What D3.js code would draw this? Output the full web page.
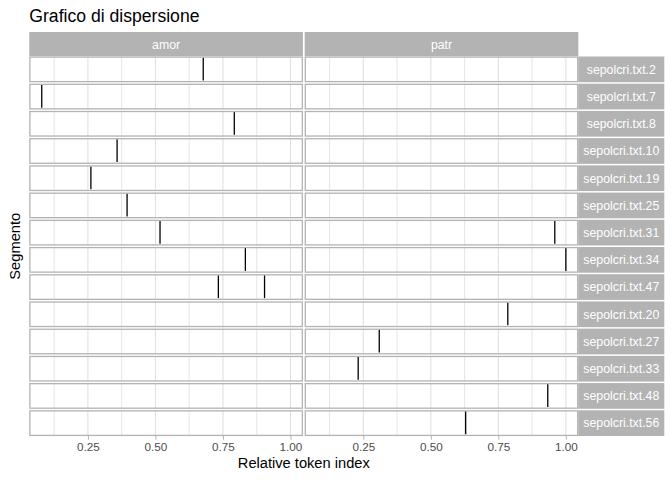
<!DOCTYPE html>
<html><head><meta charset="utf-8">
<script src="https://cdn.jsdelivr.net/npm/d3@7"></script>
<style>
html,body{margin:0;padding:0;background:#fff;}
text{font-family:"Liberation Sans",Arial,sans-serif;}
</style></head>
<body>
<svg id="chart" width="672" height="480"></svg>
<script>
// Data
const segments = ["sepolcri.txt.2","sepolcri.txt.7","sepolcri.txt.8","sepolcri.txt.10","sepolcri.txt.19","sepolcri.txt.25","sepolcri.txt.31","sepolcri.txt.34","sepolcri.txt.47","sepolcri.txt.20","sepolcri.txt.27","sepolcri.txt.33","sepolcri.txt.48","sepolcri.txt.56"];
const keywords = ["amor","patr"];
const amorSegments = ["sepolcri.txt.2","sepolcri.txt.7","sepolcri.txt.8","sepolcri.txt.10","sepolcri.txt.19","sepolcri.txt.25","sepolcri.txt.31","sepolcri.txt.34","sepolcri.txt.47","sepolcri.txt.47"];
const amorValues   = [0.677,0.079,0.792,0.358,0.261,0.395,0.517,0.833,0.733,0.904];
const patrSegments = ["sepolcri.txt.31","sepolcri.txt.34","sepolcri.txt.20","sepolcri.txt.27","sepolcri.txt.33","sepolcri.txt.48","sepolcri.txt.56"];
const patrValues   = [0.959,1.000,0.785,0.309,0.231,0.933,0.629];
const xTicks = [0.25,0.50,0.75,1.00];
const xMinor = [0.125,0.375,0.625,0.875];

(function(){
const points = amorSegments.map((s,i)=>({kw:"amor",seg:s,x:amorValues[i]}))
  .concat(patrSegments.map((s,i)=>({kw:"patr",seg:s,x:patrValues[i]})));

const svg = d3.select("#chart");
const pLeft = 29.3, pRight = 578.3, pTop = 56.5, pBottom = 436;
const stripTop = 32, stripRightW = 86;

const col = d3.scaleBand().domain(keywords).range([pLeft,pRight]).paddingInner(0.0065);
const row = d3.scaleBand().domain(segments).range([pTop,pBottom]).paddingInner(0.055);

const ext = d3.extent(points, d=>d.x);
const pad = (ext[1]-ext[0])*0.05;
const xDomain = [ext[0]-pad, ext[1]+pad];

const grey70 = "#b3b3b3", grey87 = "#dedede";

svg.append("text").attr("x",29.3).attr("y",21.5).attr("font-size","17.6px").attr("fill","#000").text("Grafico di dispersione");

keywords.forEach(kw=>{
  const x0 = col(kw), bw = col.bandwidth();
  const x = d3.scaleLinear().domain(xDomain).range([x0, x0+bw]);
  svg.append("rect").attr("x",x0).attr("y",stripTop).attr("width",bw).attr("height",pTop-stripTop).attr("fill",grey70);
  svg.append("text").attr("x",x0+bw/2).attr("y",(stripTop+pTop)/2).attr("dy","0.35em")
    .attr("text-anchor","middle").attr("font-size","12.3px").attr("fill","#fff").text(kw);

  segments.forEach(seg=>{
    const y0 = row(seg), bh = row.bandwidth();
    const g = svg.append("g");
    g.append("rect").attr("x",x0).attr("y",y0).attr("width",bw).attr("height",bh).attr("fill","#fff");
    g.selectAll("line.minor").data(xMinor).join("line").attr("class","minor")
      .attr("x1",d=>x(d)).attr("x2",d=>x(d)).attr("y1",y0).attr("y2",y0+bh)
      .attr("stroke",grey87).attr("stroke-width",0.8);
    g.selectAll("line.major").data(xTicks).join("line").attr("class","major")
      .attr("x1",d=>x(d)).attr("x2",d=>x(d)).attr("y1",y0).attr("y2",y0+bh)
      .attr("stroke",grey87).attr("stroke-width",1);
    g.selectAll("line.mark").data(points.filter(p=>p.kw===kw && p.seg===seg)).join("line").attr("class","mark")
      .attr("x1",d=>x(d.x)).attr("x2",d=>x(d.x))
      .attr("y1",y0+bh*0.04).attr("y2",y0+bh*0.93)
      .attr("stroke","#000").attr("stroke-width",1.3);
    g.append("rect").attr("x",x0+0.6).attr("y",y0+0.6).attr("width",bw-1.2).attr("height",bh-1.2)
      .attr("fill","none").attr("stroke",grey70).attr("stroke-width",1.3);
  });

  const axis = d3.axisBottom(x).tickValues(xTicks).tickFormat(d3.format(".2f")).tickSize(3.7).tickPadding(3);
  const ag = svg.append("g").attr("transform",`translate(0,${pBottom})`).call(axis);
  ag.select(".domain").remove();
  ag.selectAll(".tick line").attr("stroke",grey70).attr("stroke-width",1);
  ag.selectAll(".tick text").attr("fill","#4d4d4d").attr("font-size","11.7px")
    .attr("font-family","'Liberation Sans',Arial,sans-serif");
});

segments.forEach(seg=>{
  const y0 = row(seg), bh = row.bandwidth();
  svg.append("rect").attr("x",pRight).attr("y",y0).attr("width",stripRightW).attr("height",bh).attr("fill",grey70);
  svg.append("text").attr("x",pRight+stripRightW/2).attr("y",y0+bh/2).attr("dy","0.35em")
    .attr("text-anchor","middle").attr("font-size","12.3px").attr("fill","#fff").text(seg);
});

svg.append("text").attr("x",(pLeft+pRight)/2).attr("y",468).attr("text-anchor","middle")
  .attr("font-size","14.67px").attr("fill","#000").text("Relative token index");
svg.append("text").attr("transform",`translate(20,${(pTop+pBottom)/2}) rotate(-90)`).attr("text-anchor","middle")
  .attr("font-size","14.67px").attr("fill","#000").text("Segmento");
})();
</script>
</body></html>
